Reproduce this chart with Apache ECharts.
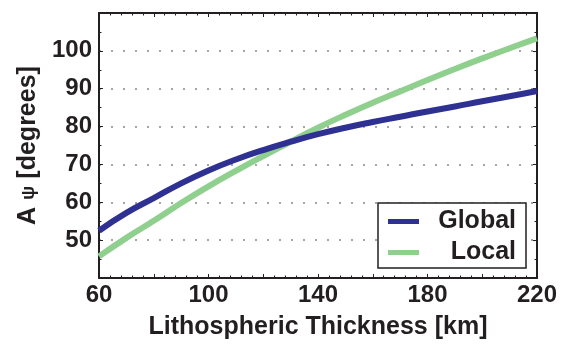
<!DOCTYPE html>
<html>
<head>
<meta charset="utf-8">
<script src="https://cdn.jsdelivr.net/npm/echarts@6/dist/echarts.min.js"></script>
<style>
  html, body { margin: 0; padding: 0; background: #fff; }
  #chart { width: 565px; height: 345px; }
</style>
</head>
<body>
<div id="chart"></div>
<script>
// values
const thickness = [60, 70, 80, 90, 100, 110, 120, 130, 140, 150, 160, 170, 180, 190, 200, 210, 220];
const globalVals = [52.5, 57.2, 61.1, 65.0, 68.4, 71.3, 73.8, 76.0, 78.0, 79.7, 81.2, 82.6, 84.0, 85.3, 86.7, 88.0, 89.4];
const localVals = [45.7, 50.6, 55.1, 59.8, 64.2, 68.3, 72.2, 76.0, 79.7, 83.1, 86.3, 89.3, 92.3, 95.2, 98.0, 100.7, 103.3];
const xTickLabels = [60, 100, 140, 180, 220];
const yTickLabels = [50, 60, 70, 80, 90, 100];

const font = "'Liberation Sans', Arial, sans-serif";
const ink = "#231f20";

const chart = echarts.init(document.getElementById("chart"));

const pairs = (ys) => thickness.map((x, i) => [x, ys[i]]);

const xBase = {
  type: "value",
  min: 60,
  max: 220,
  interval: 20,
  axisLine: { show: true, onZero: false, lineStyle: { color: ink, width: 2 } },
  axisTick: { show: true, inside: true, length: 4, lineStyle: { color: ink, width: 1 } },
  minorTick: { show: true, splitNumber: 5, length: 2.5, lineStyle: { color: ink, width: 1 } },
  splitLine: { show: false },
};

const yBase = {
  type: "value",
  min: 40,
  max: 110,
  interval: 10,
  axisLine: { show: true, onZero: false, lineStyle: { color: ink, width: 2 } },
  axisTick: { show: true, inside: true, length: 4, lineStyle: { color: ink, width: 1 } },
  minorTick: { show: true, splitNumber: 2, length: 2.5, lineStyle: { color: ink, width: 1 } },
};

const option = {
  animation: false,
  backgroundColor: "#fff",
  grid: { left: 99, right: 28, top: 13, bottom: 60, containLabel: false },
  legend: {
    orient: "vertical",
    left: 378,
    top: 203,
    data: ["Global", "Local"],
    icon: "rect",
    itemWidth: 31,
    itemHeight: 5,
    itemGap: 6,
    padding: [6, 10, 3, 10],
    borderColor: ink,
    borderWidth: 1.5,
    backgroundColor: "#fff",
    formatter: (name) => "{r|" + name + "}",
    textStyle: {
      rich: {
        r: { width: 92, align: "right", fontSize: 25, fontWeight: "bold", fontFamily: font, color: ink, lineHeight: 28 },
      },
    },
  },
  xAxis: [
    {
      ...xBase,
      position: "bottom",
      name: "Lithospheric Thickness [km]",
      nameLocation: "middle",
      nameGap: 37,
      nameTextStyle: { fontSize: 25, fontWeight: "bold", fontFamily: font, color: ink },
      axisLabel: {
        margin: 5,
        fontSize: 24,
        fontWeight: "bold",
        fontFamily: font,
        color: ink,
        showMinLabel: true,
        showMaxLabel: true,
        formatter: (v) => (xTickLabels.includes(v) ? String(v) : ""),
      },
    },
    { ...xBase, position: "top", axisLabel: { show: false } },
  ],
  yAxis: [
    {
      ...yBase,
      position: "left",
      name: "A {s|ψ} [degrees]",
      nameLocation: "middle",
      nameGap: 57,
      nameTextStyle: {
        fontSize: 25,
        fontWeight: "bold",
        fontFamily: font,
        color: ink,
        rich: { s: { fontSize: 19, fontWeight: "bold", fontFamily: font, color: ink } },
      },
      axisLabel: {
        margin: 7,
        fontSize: 24,
        fontWeight: "bold",
        fontFamily: font,
        color: ink,
        showMinLabel: true,
        showMaxLabel: true,
        formatter: (v) => (yTickLabels.includes(v) ? String(v) : ""),
      },
      splitLine: { show: true, lineStyle: { color: "#888", width: 1.5, type: [2, 10] } },
    },
    { ...yBase, position: "right", axisLabel: { show: false }, splitLine: { show: false } },
  ],
  series: [
    {
      name: "Global",
      type: "line",
      smooth: true,
      showSymbol: false,
      data: pairs(globalVals),
      lineStyle: { color: "#2e3192", width: 6 },
      itemStyle: { color: "#2e3192" },
      z: 3,
    },
    {
      name: "Local",
      type: "line",
      smooth: true,
      showSymbol: false,
      data: pairs(localVals),
      lineStyle: { color: "#8fd08f", width: 6 },
      itemStyle: { color: "#8fd08f" },
      z: 2,
    },
  ],
};

chart.setOption(option);
</script>
</body>
</html>
